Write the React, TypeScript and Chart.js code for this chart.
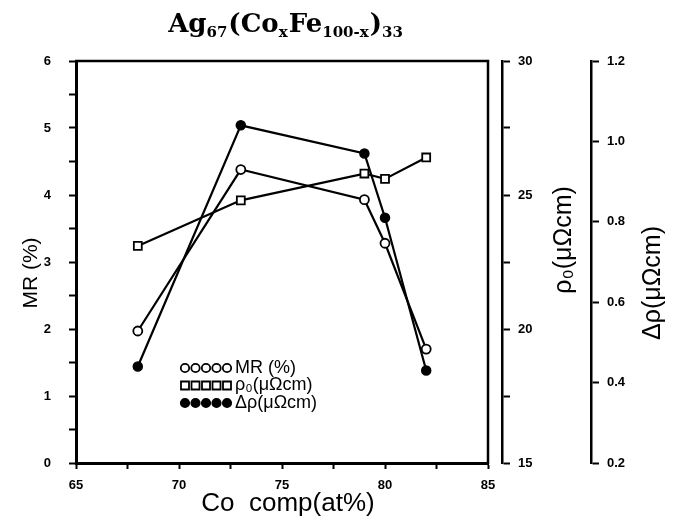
import React, { useEffect, useRef } from 'react';
import { Chart, registerables } from 'chart.js';

Chart.register(...registerables);

// ---- data ----
const coComp = [68, 73, 79, 80, 82];
const mrValues = [1.97, 4.38, 3.93, 3.28, 1.7];
const rho0Values = [23.1, 24.8, 25.8, 25.6, 26.4];
const deltaRhoValues = [0.44, 1.04, 0.97, 0.81, 0.43];

const xRange = [65, 85];
const mrRange = [0, 6];
const rho0Range = [15, 30];
const deltaRhoRange = [0.2, 1.2];

const legendLabels = ['MR (%)', 'ρ₀(μΩcm)', 'Δρ(μΩcm)'];
const titleParts: [string, boolean][] = [
  ['Ag', false], ['67', true], ['(Co', false], ['x', true], ['Fe', false], ['100-x', true], [')', false], ['33', true],
];
const xTitle = 'Co  comp(at%)';
const mrTitle = 'MR (%)';
const rho0Title = 'ρ₀(μΩcm)';
const deltaRhoTitle = 'Δρ(μΩcm)';

const SANS = '"Liberation Sans", "DejaVu Sans", Arial, sans-serif';
const SERIF = '"DejaVu Serif", "Liberation Serif", serif';

function drawMarker(ctx: CanvasRenderingContext2D, kind: number, x: number, y: number) {
  ctx.beginPath();
  ctx.lineWidth = 1.8;
  ctx.strokeStyle = '#000';
  if (kind === 1) {
    ctx.rect(x - 4, y - 4, 8, 8);
    ctx.fillStyle = '#fff';
    ctx.fill();
    ctx.stroke();
  } else {
    ctx.arc(x, y, 4.2, 0, Math.PI * 2);
    ctx.fillStyle = kind === 2 ? '#000' : '#fff';
    ctx.fill();
    ctx.stroke();
  }
}

function drawRotated(ctx: CanvasRenderingContext2D, text: string, x: number, y: number, font: string) {
  ctx.save();
  ctx.translate(x, y);
  ctx.rotate(-Math.PI / 2);
  ctx.font = font;
  ctx.fillStyle = '#000';
  ctx.textAlign = 'center';
  ctx.textBaseline = 'middle';
  ctx.fillText(text, 0, 0);
  ctx.restore();
}

const decorPlugin = {
  id: 'decor',
  beforeDatasetsDraw(chart: any) {
    const { ctx, chartArea } = chart;
    const { left, right, top, bottom } = chartArea;
    ctx.save();
    ctx.strokeStyle = '#000';
    ctx.lineWidth = 2.5;
    ctx.beginPath();
    ctx.moveTo(left - 1, top);
    ctx.lineTo(right, top);
    ctx.lineTo(right, bottom + 1);
    ctx.stroke();
    ctx.restore();
  },
  afterDraw(chart: any) {
    const { ctx, chartArea, scales } = chart;
    ctx.save();
    // main title with subscripts
    const mainFont = `bold 26px ${SERIF}`;
    const subFont = `bold 15px ${SERIF}`;
    let total = 0;
    for (const [t, sub] of titleParts) {
      ctx.font = sub ? subFont : mainFont;
      total += ctx.measureText(t).width + (sub ? 1 : 0);
    }
    let x = 286 - total / 2;
    const baseY = 32;
    ctx.fillStyle = '#000';
    ctx.textAlign = 'left';
    ctx.textBaseline = 'alphabetic';
    for (const [t, sub] of titleParts) {
      ctx.font = sub ? subFont : mainFont;
      ctx.fillText(t, x, sub ? baseY + 5 : baseY);
      x += ctx.measureText(t).width + (sub ? 1 : 0);
    }

    // x axis title
    ctx.font = `26px ${SANS}`;
    ctx.textAlign = 'center';
    ctx.textBaseline = 'middle';
    ctx.fillText(xTitle, 288, 504);

    // y axis titles
    drawRotated(ctx, mrTitle, 31, 273, `21px ${SANS}`);
    drawRotated(ctx, rho0Title, scales.rho.left + 62, 240, `25px ${SANS}`);
    drawRotated(ctx, deltaRhoTitle, scales.drho.left + 62, 283, `25px ${SANS}`);

    // legend inside the plot
    const lx = chartArea.left + 109;
    const ly = chartArea.top + 307;
    for (let r = 0; r < 3; r++) {
      const yy = ly + r * 17.5;
      for (let k = 0; k < 5; k++) drawMarker(ctx, r, lx + k * 10.5, yy);
      ctx.font = `18px ${SANS}`;
      ctx.fillStyle = '#000';
      ctx.textAlign = 'left';
      ctx.textBaseline = 'middle';
      ctx.fillText(legendLabels[r], lx + 50, yy);
    }
    ctx.restore();
  },
};

const tickFont = { family: SANS, size: 13, weight: 'bold' as const };

export default function App() {
  const ref = useRef<HTMLCanvasElement>(null);
  useEffect(() => {
    const mk = (vals: number[]) => coComp.map((c, i) => ({ x: c, y: vals[i] }));
    const chart = new Chart(ref.current as HTMLCanvasElement, {
      type: 'line',
      data: {
        datasets: [
          {
            label: legendLabels[0],
            data: mk(mrValues),
            yAxisID: 'y',
            borderColor: '#000',
            borderWidth: 2.2,
            pointStyle: 'circle',
            pointRadius: 4.5,
            pointBorderWidth: 1.8,
            pointBackgroundColor: '#fff',
            pointBorderColor: '#000',
          },
          {
            label: legendLabels[1],
            data: mk(rho0Values),
            yAxisID: 'rho',
            borderColor: '#000',
            borderWidth: 2.2,
            pointStyle: 'rect',
            pointRadius: 5.6,
            pointBorderWidth: 1.8,
            pointBackgroundColor: '#fff',
            pointBorderColor: '#000',
          },
          {
            label: legendLabels[2],
            data: mk(deltaRhoValues),
            yAxisID: 'drho',
            borderColor: '#000',
            borderWidth: 2.2,
            pointStyle: 'circle',
            pointRadius: 4.5,
            pointBorderWidth: 1.5,
            pointBackgroundColor: '#000',
            pointBorderColor: '#000',
          },
        ],
      },
      options: {
        animation: false,
        responsive: false,
        devicePixelRatio: 1,
        layout: { padding: { top: 61, left: 0, right: 0, bottom: 0 } },
        plugins: { legend: { display: false }, title: { display: false }, tooltip: { enabled: false } },
        scales: {
          x: {
            type: 'linear',
            min: xRange[0],
            max: xRange[1],
            ticks: {
              stepSize: 2.5,
              color: '#000',
              font: tickFont,
              padding: 9,
              maxRotation: 0,
              autoSkip: false,
              callback: (v: any) => (Number(v) % 5 === 0 ? String(v) : ''),
            },
            grid: { drawOnChartArea: false, tickLength: 6, tickWidth: 2, tickColor: '#000' },
            border: { display: true, color: '#000', width: 3 },
            afterFit: (s: any) => { s.height = 61; },
          },
          y: {
            type: 'linear',
            position: 'left',
            min: mrRange[0],
            max: mrRange[1],
            ticks: {
              stepSize: 0.5,
              color: '#000',
              font: tickFont,
              padding: 18,
              autoSkip: false,
              callback: (v: any) => (Number(v) % 1 === 0 ? String(v) : ''),
            },
            grid: { drawOnChartArea: false, tickLength: 7, tickWidth: 2, tickColor: '#000' },
            border: { display: true, color: '#000', width: 3 },
            afterFit: (s: any) => { s.width = 76; },
          },
          gap: {
            type: 'linear',
            position: 'right',
            weight: 1,
            min: 0,
            max: 1,
            ticks: { display: false },
            grid: { display: false },
            border: { display: false },
            afterFit: (s: any) => { s.width = 14; },
          },
          rho: {
            type: 'linear',
            position: 'right',
            weight: 2,
            min: rho0Range[0],
            max: rho0Range[1],
            ticks: {
              stepSize: 2.5,
              color: '#000',
              font: tickFont,
              padding: 8,
              autoSkip: false,
              callback: (v: any) => (Number(v) % 5 === 0 ? String(v) : ''),
            },
            grid: { drawOnChartArea: false, tickLength: 8, tickWidth: 2, tickColor: '#000' },
            border: { display: true, color: '#000', width: 2.5 },
            afterFit: (s: any) => { s.width = 89; },
          },
          drho: {
            type: 'linear',
            position: 'right',
            weight: 3,
            min: deltaRhoRange[0],
            max: deltaRhoRange[1],
            ticks: {
              stepSize: 0.2,
              color: '#000',
              font: tickFont,
              padding: 8,
              autoSkip: false,
              callback: (v: any) => Number(v).toFixed(1),
            },
            grid: { drawOnChartArea: false, tickLength: 8, tickWidth: 2, tickColor: '#000' },
            border: { display: true, color: '#000', width: 2.5 },
            afterFit: (s: any) => { s.width = 82; },
          },
        },
      } as any,
      plugins: [decorPlugin],
    });
    return () => chart.destroy();
  }, []);
  return (
    <div style={{ position: 'absolute', left: 0, top: 0, width: 673, height: 524, background: '#fff' }}>
      <canvas ref={ref} width={673} height={524} style={{ display: 'block', width: 673, height: 524 }} />
    </div>
  );
}
